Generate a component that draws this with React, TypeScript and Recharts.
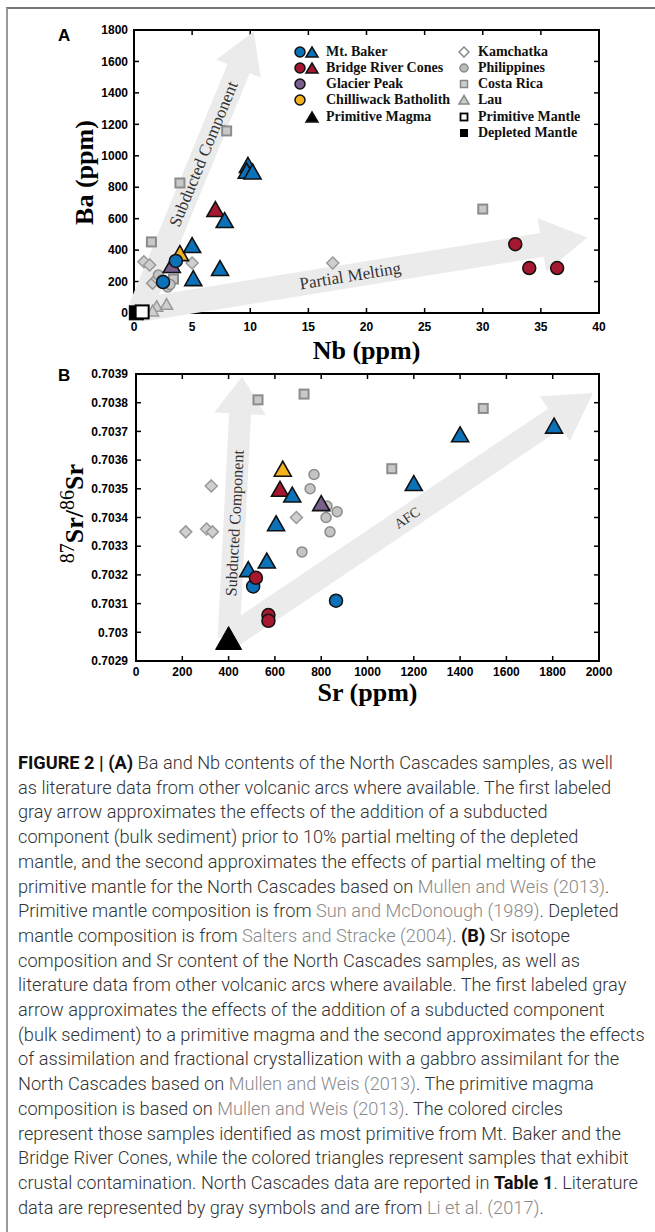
import React from 'react'
import { ScatterChart, Scatter, XAxis, YAxis } from 'recharts'

type Pt = [number, number]

// ---- panel A : Nb (ppm) vs Ba (ppm) ----
const nbTicks = [0, 5, 10, 15, 20, 25, 30, 35, 40]
const baTicks = [0, 200, 400, 600, 800, 1000, 1200, 1400, 1600, 1800]

const bakerCircA: Pt[] = [[2.5, 197], [3.6, 331]]
const bakerTriA: Pt[] = [[9.8, 942], [9.7, 905], [10.2, 900], [7.8, 591], [5.0, 432], [5.1, 222], [7.4, 286]]
const bridgeCircA: Pt[] = [[32.8, 438], [34.0, 286], [36.4, 286]]
const bridgeTriA: Pt[] = [[7.0, 661]]
const glacierTriA: Pt[] = [[3.25, 305]]
const chilliTriA: Pt[] = [[3.95, 381]]
const kamchatkaA: Pt[] = [[0.85, 326], [1.35, 305], [5.0, 318], [17.1, 318], [1.6, 190], [2.0, 218]]
const philippinesA: Pt[] = [[2.1, 242], [2.4, 210], [2.9, 165], [3.1, 182], [2.6, 195]]
const costaRicaA: Pt[] = [[1.5, 452], [3.95, 827], [7.97, 1158], [30.0, 661], [3.4, 216]]
const lauA: Pt[] = [[1.95, 45], [2.8, 58], [1.6, 15]]
const primMantleA: Pt[] = [[0.7, 7]]
const deplMantleA: Pt[] = [[0.2, 1]]
const subductedArrowA: Pt[] = [[0.5, 20], [10.3, 1790]]
const meltingArrowA: Pt[] = [[0.5, 20], [39, 480]]

// ---- panel B : Sr (ppm) vs 87Sr/86Sr ----
const srTicks = [0, 200, 400, 600, 800, 1000, 1200, 1400, 1600, 1800, 2000]
const isoTicks = [0.7029, 0.703, 0.7031, 0.7032, 0.7033, 0.7034, 0.7035, 0.7036, 0.7037, 0.7038, 0.7039]

const bakerCircB: Pt[] = [[506, 0.70316], [864, 0.70311]]
const bakerTriB: Pt[] = [[485, 0.70322], [565, 0.70325], [605, 0.70338], [675, 0.70348], [1200, 0.70352], [1400, 0.70369], [1806, 0.70372]]
const bridgeCircB: Pt[] = [[518, 0.70319], [572, 0.70306], [572, 0.70304]]
const bridgeTriB: Pt[] = [[622, 0.7035]]
const glacierTriB: Pt[] = [[800, 0.70345]]
const chilliTriB: Pt[] = [[634, 0.70357]]
const primMagmaB: Pt[] = [[400, 0.70298]]
const kamchatkaB: Pt[] = [[215, 0.70335], [305, 0.70336], [330, 0.70335], [325, 0.70351], [693, 0.7034]]
const philippinesB: Pt[] = [[769, 0.70355], [752, 0.7035], [825, 0.70344], [821, 0.7034], [869, 0.70342], [838, 0.70335], [717, 0.70328]]
const costaRicaB: Pt[] = [[527, 0.70381], [726, 0.70383], [1500, 0.70378], [1105, 0.70357]]
const subductedArrowB: Pt[] = [[400, 0.70298], [458, 0.70389]]
const afcArrowB: Pt[] = [[400, 0.70298], [1974, 0.703834]]

const BLUE = '#0b72b9'
const RED = '#a5182f'
const PURPLE = '#7a5f8c'
const YELLOW = '#f4b21f'
const SERIF = '"Liberation Serif", "Times New Roman", serif'
const SANS = '"Liberation Sans", Arial, sans-serif'

const toData = (pts: Pt[]) => pts.map(([x, y]) => ({ x, y }))

// marker shapes
const circle = (fill: string, r: number, stroke = '#111', sw = 1.5) => (p: any) =>
  <circle cx={p.cx} cy={p.cy} r={r} fill={fill} stroke={stroke} strokeWidth={sw} />

const tri = (fill: string, w: number, stroke = '#111', sw = 1.6) => (p: any) => {
  const h = w * 0.88
  return (
    <polygon
      points={`${p.cx},${p.cy - h / 2} ${p.cx + w / 2},${p.cy + h / 2} ${p.cx - w / 2},${p.cy + h / 2}`}
      fill={fill} stroke={stroke} strokeWidth={sw}
    />
  )
}

const square = (fill: string, s: number, stroke: string, sw: number) => (p: any) =>
  <rect x={p.cx - s / 2} y={p.cy - s / 2} width={s} height={s} fill={fill} stroke={stroke} strokeWidth={sw} />

const diamond = (fill: string, s: number, stroke: string, sw: number) => (p: any) =>
  <polygon
    points={`${p.cx},${p.cy - s / 2} ${p.cx + s / 2},${p.cy} ${p.cx},${p.cy + s / 2} ${p.cx - s / 2},${p.cy}`}
    fill={fill} stroke={stroke} strokeWidth={sw}
  />

const hidden = () => <g />

// big grey arrow drawn through the scatter "line" hook, so it uses the chart scales
const arrow = (label: string, o: { shaft: number; head: number; headLen: number; at: number; fontSize: number }) =>
  (props: any) => {
    const pts = props.points || []
    if (pts.length < 2) return <g />
    const a = pts[0]
    const b = pts[1]
    const dx = b.x - a.x
    const dy = b.y - a.y
    const len = Math.hypot(dx, dy)
    const ux = dx / len
    const uy = dy / len
    const nx = -uy
    const ny = ux
    const bx = b.x - ux * o.headLen
    const by = b.y - uy * o.headLen
    const s = o.shaft / 2
    const h = o.head / 2
    const poly = [
      [a.x + nx * s, a.y + ny * s],
      [bx + nx * s, by + ny * s],
      [bx + nx * h, by + ny * h],
      [b.x, b.y],
      [bx - nx * h, by - ny * h],
      [bx - nx * s, by - ny * s],
      [a.x - nx * s, a.y - ny * s],
    ].map((q) => q.join(',')).join(' ')
    const lx = a.x + dx * o.at
    const ly = a.y + dy * o.at
    const ang = (Math.atan2(dy, dx) * 180) / Math.PI
    return (
      <g>
        <polygon points={poly} fill="#ebebeb" stroke="none" />
        <text
          x={lx} y={ly} transform={`rotate(${ang} ${lx} ${ly})`}
          textAnchor="middle" dominantBaseline="central"
          fontFamily={SERIF} fontSize={o.fontSize} fill="#333"
        >
          {label}
        </text>
      </g>
    )
  }

const axisLine = { stroke: '#000', strokeWidth: 2, strokeLinecap: 'square' as const }
const tickLine = { stroke: '#000', strokeWidth: 1.5 }
const tickFont = { fill: '#000', fontSize: 12, fontWeight: 700, fontFamily: SANS }
const noTick = () => <g />
const isoFmt = (v: number) => String(Number(v.toFixed(4)))

function LegendA() {
  const rowY = [52, 68, 84, 100, 117, 133]
  const txt: React.CSSProperties = {
    position: 'absolute', fontFamily: SERIF, fontWeight: 700, fontSize: 14, lineHeight: '16px', whiteSpace: 'nowrap', color: '#111',
  }
  const left = [
    { name: 'Mt. Baker', c: BLUE, circ: true, tri: true },
    { name: 'Bridge River Cones', c: RED, circ: true, tri: true },
    { name: 'Glacier Peak', c: PURPLE, circ: true, tri: false },
    { name: 'Chilliwack Batholith', c: YELLOW, circ: true, tri: false },
    { name: 'Primitive Magma', c: '#000', circ: false, tri: true },
  ]
  const right = ['Kamchatka', 'Philippines', 'Costa Rica', 'Lau', 'Primitive Mantle', 'Depleted Mantle']
  const rightSym = [
    <polygon key="k" points="6,1 11,6 6,11 1,6" fill="#fff" stroke="#888" strokeWidth={1.5} />,
    <circle key="p" cx={6} cy={6} r={4} fill="#bbb" stroke="#888" strokeWidth={1.5} />,
    <rect key="c" x={2.5} y={2.5} width={7} height={7} fill="#ccc" stroke="#888" strokeWidth={1.5} />,
    <polygon key="l" points="6,1.5 11,10 1,10" fill="#ccc" stroke="#888" strokeWidth={1.5} />,
    <rect key="pm" x={2.5} y={2.5} width={7} height={7} fill="#fff" stroke="#000" strokeWidth={1.8} />,
    <rect key="dm" x={2} y={2} width={8} height={8} fill="#000" />,
  ]
  return (
    <>
      {left.map((r, i) => (
        <React.Fragment key={r.name}>
          <svg width={32} height={14} style={{ position: 'absolute', left: 293, top: rowY[i] - 7 }}>
            {r.circ && <circle cx={7} cy={7} r={5} fill={r.c} stroke="#111" strokeWidth={1.5} />}
            {r.tri && <polygon points="19,2 25,12 13,12" fill={r.c} stroke="#111" strokeWidth={1.5} />}
          </svg>
          <div style={{ ...txt, left: 326, top: rowY[i] - 8 }}>{r.name}</div>
        </React.Fragment>
      ))}
      {right.map((n, i) => (
        <React.Fragment key={n}>
          <svg width={12} height={12} style={{ position: 'absolute', left: 458, top: rowY[i] - 6 }}>{rightSym[i]}</svg>
          <div style={{ ...txt, left: 478, top: rowY[i] - 8 }}>{n}</div>
        </React.Fragment>
      ))}
    </>
  )
}

function ChartA() {
  return (
    <ScatterChart width={655} height={372} margin={{ top: 29, right: 55, bottom: 31, left: 74 }} style={{ position: 'absolute', left: 0, top: 0 }}>
      <XAxis
        type="number" dataKey="x" domain={[0, 40]} ticks={nbTicks} interval={0} height={28}
        tickSize={-5} tickMargin={14} tick={tickFont} tickLine={tickLine} axisLine={axisLine}
        label={{
          content: (p: any) => {
            const vb = p.viewBox || { x: 134, y: 313, width: 465 }
            return (
              <text x={vb.x + vb.width / 2} y={vb.y + 46} textAnchor="middle" fontFamily={SERIF} fontWeight={700} fontSize={26} fill="#000">
                Nb (ppm)
              </text>
            )
          },
        }}
      />
      <XAxis xAxisId="top" orientation="top" type="number" dataKey="x" domain={[0, 40]} ticks={nbTicks} interval={0} height={1}
        allowDataOverflow tickSize={-5} tick={noTick} tickLine={tickLine} axisLine={axisLine} />
      <YAxis
        type="number" dataKey="y" domain={[0, 1800]} ticks={baTicks} interval={0} width={60}
        tickSize={-5} tickMargin={11} tick={tickFont} tickLine={tickLine} axisLine={axisLine}
        label={{
          content: (p: any) => {
            const vb = p.viewBox || { x: 74, y: 30, height: 283 }
            const x = vb.x + 19
            const y = vb.y + vb.height / 2 + 1
            return (
              <text x={x} y={y} transform={`rotate(-90 ${x} ${y})`} textAnchor="middle" fontFamily={SERIF} fontWeight={700} fontSize={26} fill="#000">
                Ba (ppm)
              </text>
            )
          },
        }}
      />
      <YAxis yAxisId="right" orientation="right" type="number" dataKey="y" domain={[0, 1800]} ticks={baTicks} interval={0} width={1}
        allowDataOverflow tickSize={-5} tick={noTick} tickLine={tickLine} axisLine={axisLine} />

      <Scatter data={toData(subductedArrowA)} shape={hidden} isAnimationActive={false}
        line={arrow('Subducted Component', { shaft: 24, head: 48, headLen: 40, at: 0.56, fontSize: 17 })} />
      <Scatter data={toData(meltingArrowA)} shape={hidden} isAnimationActive={false}
        line={arrow('Partial Melting', { shaft: 24, head: 54, headLen: 46, at: 0.47, fontSize: 17 })} />

      <Scatter data={toData(costaRicaA)} shape={square('#c8c8c8', 9, '#8c8c8c', 2)} isAnimationActive={false} />
      <Scatter data={toData(kamchatkaA)} shape={diamond('#cfcfcf', 12, '#999', 1.5)} isAnimationActive={false} />
      <Scatter data={toData(philippinesA)} shape={circle('#c4c4c4', 5, '#8c8c8c', 1.5)} isAnimationActive={false} />
      <Scatter data={toData(lauA)} shape={tri('#cfcfcf', 12, '#999', 1.5)} isAnimationActive={false} />

      <Scatter data={toData(glacierTriA)} shape={tri(PURPLE, 17)} isAnimationActive={false} />
      <Scatter data={toData(chilliTriA)} shape={tri(YELLOW, 17)} isAnimationActive={false} />
      <Scatter data={toData(bridgeTriA)} shape={tri(RED, 17)} isAnimationActive={false} />
      <Scatter data={toData(bakerTriA)} shape={tri(BLUE, 17)} isAnimationActive={false} />
      <Scatter data={toData(bakerCircA)} shape={circle(BLUE, 6.5)} isAnimationActive={false} />
      <Scatter data={toData(bridgeCircA)} shape={circle(RED, 6.5)} isAnimationActive={false} />

      <Scatter data={toData(deplMantleA)} shape={square('#000', 14, '#000', 1)} isAnimationActive={false} />
      <Scatter data={toData(primMantleA)} shape={square('#fff', 13, '#000', 2)} isAnimationActive={false} />
    </ScatterChart>
  )
}

function ChartB() {
  return (
    <ScatterChart width={655} height={372} margin={{ top: 33, right: 55, bottom: 23, left: 74 }} style={{ position: 'absolute', left: 0, top: 340 }}>
      <XAxis
        type="number" dataKey="x" domain={[0, 2000]} ticks={srTicks} interval={0} height={28}
        tickSize={-5} tickMargin={11} tick={tickFont} tickLine={tickLine} axisLine={axisLine}
        label={{
          content: (p: any) => {
            const vb = p.viewBox || { x: 136, y: 321, width: 463 }
            return (
              <text x={vb.x + vb.width / 2} y={vb.y + 40} textAnchor="middle" fontFamily={SERIF} fontWeight={700} fontSize={26} fill="#000">
                Sr (ppm)
              </text>
            )
          },
        }}
      />
      <XAxis xAxisId="top" orientation="top" type="number" dataKey="x" domain={[0, 2000]} ticks={srTicks} interval={0} height={1}
        allowDataOverflow tickSize={-5} tick={noTick} tickLine={tickLine} axisLine={axisLine} />
      <YAxis
        type="number" dataKey="y" domain={[0.7029, 0.7039]} ticks={isoTicks} interval={0} width={62} tickFormatter={isoFmt}
        tickSize={-5} tickMargin={13} tick={tickFont} tickLine={tickLine} axisLine={axisLine}
        label={{
          content: (p: any) => {
            const vb = p.viewBox || { x: 74, y: 34, height: 287 }
            const x = vb.x + 9
            const y = vb.y + vb.height / 2 - 4
            return (
              <text x={x} y={y} transform={`rotate(-90 ${x} ${y})`} textAnchor="middle" fontFamily={SERIF} fill="#000">
                <tspan fontSize={20} dy={-9}>87</tspan>
                <tspan fontSize={26} fontWeight={700} dy={9}>Sr/</tspan>
                <tspan fontSize={20} dy={-9}>86</tspan>
                <tspan fontSize={26} fontWeight={700} dy={9}>Sr</tspan>
              </text>
            )
          },
        }}
      />
      <YAxis yAxisId="right" orientation="right" type="number" dataKey="y" domain={[0.7029, 0.7039]} ticks={isoTicks} interval={0} width={1}
        allowDataOverflow tickSize={-5} tick={noTick} tickLine={tickLine} axisLine={axisLine} />

      <Scatter data={toData(subductedArrowB)} shape={hidden} isAnimationActive={false}
        line={arrow('Subducted Component', { shaft: 22, head: 52, headLen: 37, at: 0.44, fontSize: 16 })} />
      <Scatter data={toData(afcArrowB)} shape={hidden} isAnimationActive={false}
        line={arrow('AFC', { shaft: 24, head: 54, headLen: 46, at: 0.49, fontSize: 14 })} />

      <Scatter data={toData(costaRicaB)} shape={square('#c8c8c8', 9, '#8c8c8c', 2)} isAnimationActive={false} />
      <Scatter data={toData(kamchatkaB)} shape={diamond('#cfcfcf', 12, '#999', 1.5)} isAnimationActive={false} />
      <Scatter data={toData(philippinesB)} shape={circle('#c4c4c4', 5, '#8c8c8c', 1.5)} isAnimationActive={false} />

      <Scatter data={toData(primMagmaB)} shape={tri('#000', 26, '#000', 1)} isAnimationActive={false} />
      <Scatter data={toData(glacierTriB)} shape={tri(PURPLE, 17)} isAnimationActive={false} />
      <Scatter data={toData(chilliTriB)} shape={tri(YELLOW, 17)} isAnimationActive={false} />
      <Scatter data={toData(bridgeTriB)} shape={tri(RED, 17)} isAnimationActive={false} />
      <Scatter data={toData(bakerTriB)} shape={tri(BLUE, 17)} isAnimationActive={false} />
      <Scatter data={toData(bakerCircB)} shape={circle(BLUE, 6.5)} isAnimationActive={false} />
      <Scatter data={toData(bridgeCircB)} shape={circle(RED, 6.5)} isAnimationActive={false} />
    </ScatterChart>
  )
}

const G = ({ children }: { children: React.ReactNode }) => <span style={{ color: '#8a8a8a' }}>{children}</span>
const B = ({ children }: { children: React.ReactNode }) => <b style={{ fontWeight: 700, color: '#111' }}>{children}</b>

const captionLines: React.ReactNode[] = [
  <><B>FIGURE 2 | (A)</B> Ba and Nb contents of the North Cascades samples, as well</>,
  <>as literature data from other volcanic arcs where available. The first labeled</>,
  <>gray arrow approximates the effects of the addition of a subducted</>,
  <>component (bulk sediment) prior to 10% partial melting of the depleted</>,
  <>mantle, and the second approximates the effects of partial melting of the</>,
  <>primitive mantle for the North Cascades based on <G>Mullen and Weis (2013)</G>.</>,
  <>Primitive mantle composition is from <G>Sun and McDonough (1989)</G>. Depleted</>,
  <>mantle composition is from <G>Salters and Stracke (2004)</G>. <B>(B)</B> Sr isotope</>,
  <>composition and Sr content of the North Cascades samples, as well as</>,
  <>literature data from other volcanic arcs where available. The first labeled gray</>,
  <>arrow approximates the effects of the addition of a subducted component</>,
  <>(bulk sediment) to a primitive magma and the second approximates the effects</>,
  <>of assimilation and fractional crystallization with a gabbro assimilant for the</>,
  <>North Cascades based on <G>Mullen and Weis (2013)</G>. The primitive magma</>,
  <>composition is based on <G>Mullen and Weis (2013)</G>. The colored circles</>,
  <>represent those samples identified as most primitive from Mt. Baker and the</>,
  <>Bridge River Cones, while the colored triangles represent samples that exhibit</>,
  <>crustal contamination. North Cascades data are reported in <B>Table 1</B>. Literature</>,
  <>data are represented by gray symbols and are from <G>Li et al. (2017)</G>.</>,
]

export default function App() {
  return (
    <div style={{ position: 'absolute', left: 0, top: 0, width: 655, height: 1232, background: '#fff', overflow: 'hidden' }}>
      <div style={{ position: 'absolute', left: 6, top: 7, right: -5, bottom: -5, borderTop: '2px solid #777', borderLeft: '2px solid #999' }} />
      <ChartA />
      <ChartB />
      <LegendA />
      <div style={{ position: 'absolute', left: 58, top: 26, fontFamily: SANS, fontWeight: 700, fontSize: 17 }}>A</div>
      <div style={{ position: 'absolute', left: 58, top: 366, fontFamily: SANS, fontWeight: 700, fontSize: 17 }}>B</div>
      <div style={{ position: 'absolute', left: 18, top: 751, fontFamily: 'Roboto, sans-serif', fontSize: 18.2, fontWeight: 300, color: '#333', lineHeight: '24.7px' }}>
        {captionLines.map((l, i) => (
          <div key={i} style={{ whiteSpace: 'nowrap' }}>{l}</div>
        ))}
      </div>
    </div>
  )
}
